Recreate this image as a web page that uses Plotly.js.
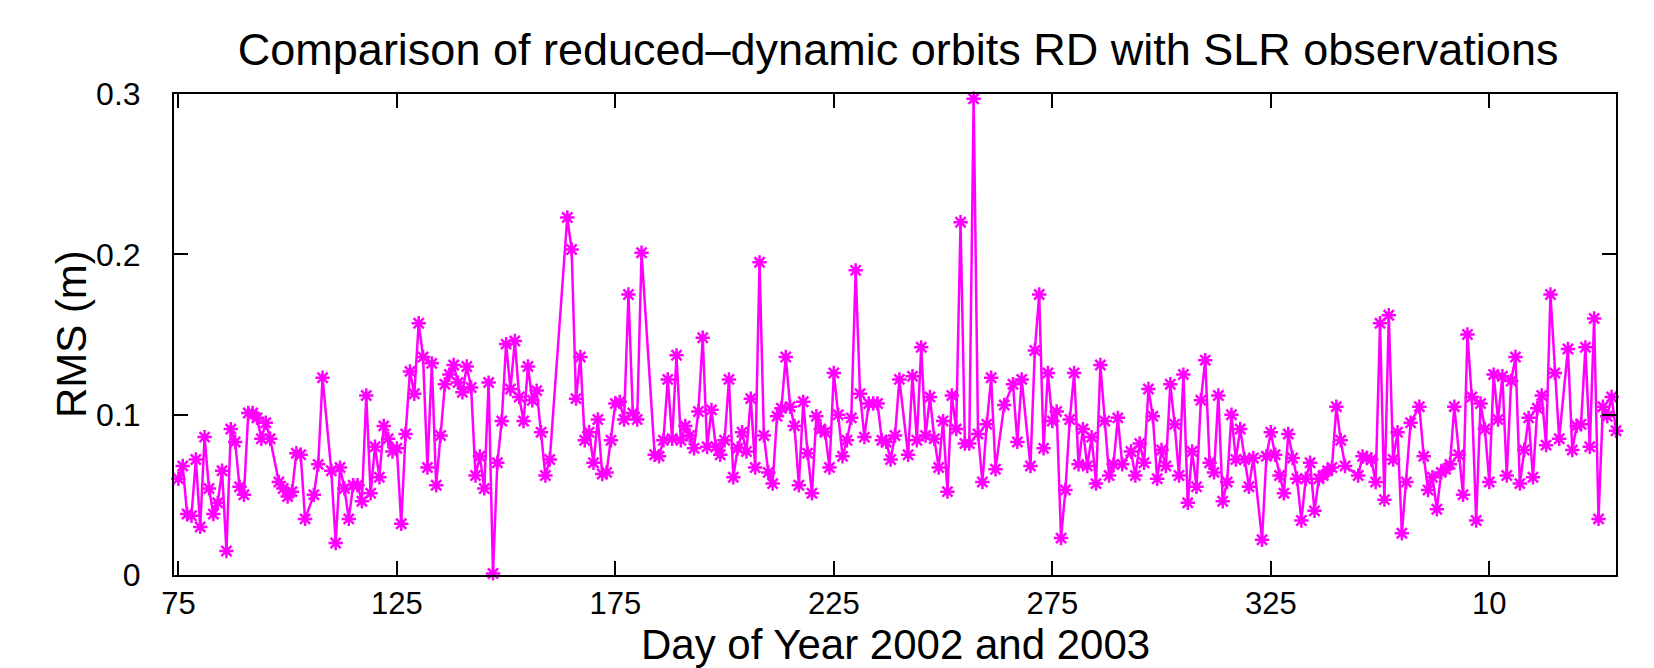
<!DOCTYPE html>
<html>
<head>
<meta charset="utf-8">
<script src="https://cdn.plot.ly/plotly-3.0.1.min.js"></script>
<style>
  html, body { margin: 0; padding: 0; background: #ffffff; }
  #chart { width: 1654px; height: 668px; }
</style>
</head>
<body>
<div id="chart"></div>
<script>
// Day of year (2002 continuing into 2003: day 366 = 1 Jan 2003)
const days = [
  75, 76, 77, 78, 79, 80, 81, 82, 83, 84, 85, 86, 87, 88, 89, 90, 91, 92, 93, 94, 95, 96,
  98, 99, 100, 101, 102, 103, 104, 106, 107, 108, 110, 111, 112, 113, 114, 115, 116, 117,
  118, 119, 120, 121, 122, 123, 124, 125, 126, 127, 128, 129, 130, 131, 132, 133, 134, 135,
  136, 137, 138, 139, 140, 141, 142, 143, 144, 145, 146, 147, 148, 149, 150, 151, 152, 153,
  154, 155, 156, 157, 158, 159, 160, 164, 165, 166, 167, 168, 169, 170, 171, 172, 173, 174,
  175, 176, 177, 178, 179, 180, 181, 184, 185, 186, 187, 188, 189, 190, 191, 192, 193, 194,
  195, 196, 197, 198, 199, 200, 201, 202, 203, 204, 205, 206, 207, 208, 209, 210, 211, 212,
  213, 214, 215, 216, 217, 218, 219, 220, 221, 222, 223, 224, 225, 226, 227, 228, 229, 230,
  231, 232, 233, 234, 235, 236, 237, 238, 239, 240, 242, 243, 244, 245, 246, 247, 248, 249,
  250, 251, 252, 253, 254, 255, 256, 257, 258, 259, 260, 261, 262, 264, 266, 267, 268, 270,
  271, 272, 273, 274, 275, 276, 277, 278, 279, 280, 281, 282, 283, 284, 285, 286, 287, 288,
  289, 290, 291, 293, 294, 295, 296, 297, 298, 299, 300, 301, 302, 303, 304, 305, 306, 307,
  308, 309, 310, 311, 312, 313, 314, 315, 316, 317, 318, 319, 320, 321, 323, 324, 325, 326,
  327, 328, 329, 330, 331, 332, 333, 334, 335, 336, 337, 338, 339, 340, 341, 342, 345, 346,
  347, 348, 349, 350, 351, 352, 353, 354, 355, 356, 357, 359, 360, 361, 362, 363, 364, 365,
  366, 367, 368, 369, 370, 371, 372, 373, 374, 375, 376, 377, 378, 379, 380, 381, 382, 383,
  384, 385, 386, 387, 388, 389, 390, 391, 393, 394, 395, 396, 397, 398, 399, 400, 401, 402,
  403, 404
];

// RMS of SLR residuals per day (m)
const rms = [
  0.060, 0.068, 0.038, 0.037, 0.072, 0.030, 0.086, 0.054, 0.038, 0.045, 0.065, 0.015, 0.091, 0.083, 0.055, 0.050, 0.101, 0.101, 0.098, 0.085, 0.095, 0.085,
  0.058, 0.054, 0.049, 0.052, 0.076, 0.075, 0.035, 0.050, 0.069, 0.123, 0.065, 0.020, 0.067, 0.054, 0.035, 0.056, 0.056, 0.046,
  0.112, 0.051, 0.080, 0.061, 0.093, 0.085, 0.077, 0.079, 0.032, 0.088, 0.127, 0.113, 0.157, 0.136, 0.067, 0.132, 0.056, 0.087,
  0.119, 0.125, 0.131, 0.120, 0.114, 0.130, 0.117, 0.062, 0.074, 0.054, 0.120, 0.001, 0.070, 0.096, 0.144, 0.116, 0.146, 0.111,
  0.096, 0.130, 0.109, 0.115, 0.089, 0.062, 0.072, 0.223, 0.203, 0.110, 0.136, 0.084, 0.089, 0.070, 0.097, 0.063, 0.064, 0.084,
  0.107, 0.108, 0.097, 0.175, 0.101, 0.097, 0.201, 0.075, 0.074, 0.084, 0.122, 0.085, 0.137, 0.084, 0.093, 0.087, 0.079, 0.102,
  0.148, 0.080, 0.103, 0.080, 0.075, 0.084, 0.122, 0.061, 0.079, 0.089, 0.077, 0.110, 0.067, 0.195, 0.087, 0.064, 0.057, 0.099,
  0.104, 0.136, 0.105, 0.093, 0.056, 0.108, 0.076, 0.051, 0.099, 0.091, 0.089, 0.067, 0.126, 0.100, 0.074, 0.084, 0.098, 0.190,
  0.113, 0.086, 0.107, 0.107, 0.107, 0.084, 0.083, 0.072, 0.087, 0.122, 0.075, 0.124, 0.084, 0.142, 0.087, 0.111, 0.085, 0.067,
  0.096, 0.052, 0.112, 0.091, 0.220, 0.082, 0.082, 0.297, 0.088, 0.058, 0.094, 0.123, 0.066, 0.106, 0.119, 0.083, 0.122, 0.068,
  0.140, 0.175, 0.079, 0.126, 0.096, 0.102, 0.023, 0.053, 0.097, 0.126, 0.069, 0.091, 0.068, 0.086, 0.057, 0.131, 0.096, 0.062,
  0.069, 0.098, 0.069, 0.077, 0.062, 0.082, 0.070, 0.116, 0.099, 0.060, 0.078, 0.068, 0.119, 0.094, 0.062, 0.125, 0.045, 0.077,
  0.055, 0.109, 0.134, 0.070, 0.064, 0.112, 0.046, 0.058, 0.100, 0.072, 0.091, 0.072, 0.055, 0.073, 0.022, 0.074, 0.089, 0.075,
  0.062, 0.051, 0.088, 0.073, 0.060, 0.034, 0.060, 0.070, 0.040, 0.060, 0.062, 0.065, 0.067, 0.105, 0.084, 0.068, 0.062, 0.074,
  0.073, 0.072, 0.058, 0.157, 0.047, 0.162, 0.072, 0.089, 0.026, 0.058, 0.095, 0.105, 0.074, 0.053, 0.061, 0.041, 0.064, 0.066,
  0.069, 0.105, 0.075, 0.050, 0.150, 0.111, 0.034, 0.107, 0.091, 0.058, 0.125, 0.097, 0.124, 0.062, 0.121, 0.136, 0.057, 0.078,
  0.098, 0.061, 0.104, 0.112, 0.081, 0.175, 0.126, 0.085, 0.141, 0.078, 0.093, 0.094, 0.142, 0.080, 0.160, 0.035, 0.105, 0.099,
  0.111, 0.090
];

// Axis ticks: days past 365 are labelled with their 2003 day number
const xTickVals = [75, 125, 175, 225, 275, 325, 375];
const xTickText = ['75', '125', '175', '225', '275', '325', '10'];
const yTickVals = [0, 0.1, 0.2, 0.3];
const yTickText = ['0', '0.1', '0.2', '0.3'];

const titleText = 'Comparison of reduced\u2013dynamic orbits RD with SLR observations';
const xTitle = 'Day of Year 2002 and 2003';
const yTitle = 'RMS (m)';

const font = 'Liberation Sans, Arial, Helvetica, sans-serif';
const magenta = '#ff00ff';

const trace = {
  x: days,
  y: rms,
  type: 'scatter',
  mode: 'lines+markers',
  line: { color: magenta, width: 2.5 },
  marker: {
    symbol: 'asterisk-open',
    size: 12,
    color: magenta,
    line: { color: magenta, width: 2.5 }
  },
  cliponaxis: false,
  hoverinfo: 'x+y'
};

const axisCommon = {
  showgrid: false,
  zeroline: false,
  showline: true,
  mirror: 'ticks',
  linecolor: '#000000',
  linewidth: 2,
  ticks: 'inside',
  ticklen: 14,
  tickwidth: 2,
  tickcolor: '#000000',
  automargin: false,
  tickfont: { family: font, size: 32, color: '#000000' }
};

const layout = {
  width: 1654,
  height: 668,
  margin: { l: 174, r: 38, t: 94, b: 93 },
  paper_bgcolor: '#ffffff',
  plot_bgcolor: '#ffffff',
  showlegend: false,
  title: {
    text: titleText,
    font: { family: font, size: 45, color: '#000000' },
    x: 0.543,
    xanchor: 'center',
    y: 0.927,
    yanchor: 'middle'
  },
  xaxis: Object.assign({}, axisCommon, {
    range: [74, 404],
    tickmode: 'array',
    tickvals: xTickVals,
    ticktext: xTickText,
    ticklabelstandoff: 0,
    tickfont: { family: font, size: 31, color: '#000000' }
  }),
  yaxis: Object.assign({}, axisCommon, {
    range: [0, 0.3],
    tickmode: 'array',
    tickvals: yTickVals,
    ticktext: yTickText,
    ticklabelstandoff: 25
  }),
  // axis titles are placed in paper space so they can sit close to the tick labels
  annotations: [
    {
      text: xTitle,
      xref: 'paper',
      yref: 'paper',
      x: 0.5,
      y: -0.145,
      xanchor: 'center',
      yanchor: 'middle',
      showarrow: false,
      font: { family: font, size: 42, color: '#000000' }
    },
    {
      text: yTitle,
      xref: 'paper',
      yref: 'paper',
      x: -0.071,
      y: 0.5,
      xanchor: 'center',
      yanchor: 'middle',
      textangle: -90,
      showarrow: false,
      font: { family: font, size: 42, color: '#000000' }
    }
  ]
};

Plotly.newPlot('chart', [trace], layout, { staticPlot: true, displayModeBar: false });
</script>
</body>
</html>
